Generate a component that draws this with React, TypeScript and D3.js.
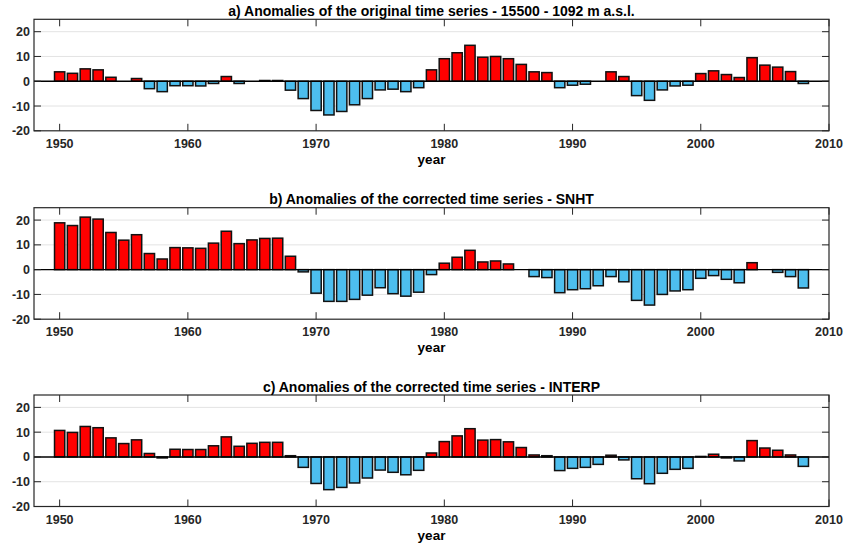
import React from "react";
import * as d3 from "d3";

// Annual anomalies, 1950–2008
const years: number[] = d3.range(1950, 2009);

const originalSeries: number[] = [
  3.8, 3.2, 5.0, 4.6, 1.6, 0.0, 1.1, -3.0, -4.2, -1.8,
  -1.8, -1.9, -0.9, 1.9, -0.9, 0.0, 0.3, 0.3, -3.6, -7.0,
  -11.8, -13.6, -12.2, -9.5, -7.0, -3.5, -3.2, -4.2, -2.6, 4.6,
  9.1, 11.5, 14.5, 9.7, 10.0, 9.1, 6.8, 3.8, 3.5, -2.6,
  -1.6, -1.2, 0.0, 3.8, 1.9, -5.8, -7.7, -3.5, -1.9, -1.6,
  3.1, 4.2, 2.7, 1.5, 9.5, 6.5, 5.7, 3.9, -0.9,
];

const snhtSeries: number[] = [
  18.9, 17.8, 21.2, 20.4, 15.0, 11.9, 14.1, 6.5, 4.3, 8.9,
  8.8, 8.6, 10.7, 15.5, 10.5, 12.0, 12.6, 12.7, 5.4, -0.9,
  -9.5, -12.8, -12.8, -12.0, -10.3, -7.3, -9.7, -10.7, -9.1, -2.0,
  2.6, 5.0, 7.8, 3.1, 3.5, 2.3, 0.0, -2.8, -3.2, -9.3,
  -8.1, -7.7, -6.5, -2.8, -4.9, -12.4, -14.3, -10.0, -8.6, -8.1,
  -3.5, -2.4, -3.9, -5.3, 2.8, 0.0, -1.1, -2.8, -7.4,
];

const interpSeries: number[] = [
  10.7, 9.9, 12.3, 11.8, 7.7, 5.4, 6.9, 1.4, -0.4, 3.1,
  3.0, 3.0, 4.5, 8.1, 4.3, 5.5, 5.9, 5.9, 0.5, -4.2,
  -10.7, -13.2, -12.3, -10.5, -8.5, -5.3, -6.2, -7.2, -5.4, 1.6,
  6.2, 8.5, 11.4, 6.8, 7.0, 6.1, 3.8, 0.8, 0.5, -5.5,
  -4.6, -4.2, -3.0, 0.7, -1.2, -8.8, -10.8, -6.6, -5.0, -4.6,
  0.2, 1.1, -0.4, -1.6, 6.6, 3.6, 2.7, 0.8, -3.8,
];

const panelTitles: string[] = [
  "a) Anomalies of the original time series - 15500 - 1092 m a.s.l.",
  "b) Anomalies of the corrected time series - SNHT",
  "c) Anomalies of the corrected time series - INTERP",
];

const xTicks: number[] = [1950, 1960, 1970, 1980, 1990, 2000, 2010];
const yTicks: number[] = [-20, -10, 0, 10, 20];
const xDomain: [number, number] = [1948, 2010];
const yDomain: [number, number] = [-20, 25];

const WIDTH = 846;
const HEIGHT = 545;
const LEFT = 34;
const RIGHT = 829;
const PANEL_TOPS = [19.3, 207.7, 395];
const PANEL_HEIGHT = 111.5;
const TICK_LEN = 7;
const AXIS_COLOR = "#262626";
const FONT = "'Liberation Sans', Arial, Helvetica, sans-serif";
const POS_COLOR = "#ff0000";
const NEG_COLOR = "#4dbeee";

const seriesList = [originalSeries, snhtSeries, interpSeries];

function Panel({ values, title, top }: { values: number[]; title: string; top: number }) {
  const bottom = top + PANEL_HEIGHT;
  const x = d3.scaleLinear().domain(xDomain).range([LEFT, RIGHT]);
  const y = d3.scaleLinear().domain(yDomain).range([bottom, top]);
  const barW = (x(1) - x(0)) * 0.8;
  const zeroY = y(0);

  return (
    <g>
      {/* horizontal grid */}
      {yTicks
        .filter((t) => t !== 0 && t !== yDomain[0])
        .map((t) => (
          <line key={"g" + t} x1={LEFT} x2={RIGHT} y1={y(t)} y2={y(t)} stroke="#e3e3e3" strokeWidth={1} />
        ))}

      {/* bars */}
      {values.map((v, i) => {
        if (v === 0) return null;
        const yr = years[i];
        const y0 = Math.min(y(v), zeroY);
        const h = Math.abs(y(v) - zeroY);
        return (
          <rect
            key={yr}
            x={x(yr) - barW / 2}
            y={y0}
            width={barW}
            height={h}
            fill={v > 0 ? POS_COLOR : NEG_COLOR}
            stroke="#111"
            strokeWidth={1.5}
          />
        );
      })}

      {/* baseline */}
      <line x1={LEFT} x2={RIGHT} y1={zeroY} y2={zeroY} stroke="#000" strokeWidth={1.4} />

      {/* frame */}
      <rect x={LEFT} y={top} width={RIGHT - LEFT} height={PANEL_HEIGHT} fill="none" stroke={AXIS_COLOR} strokeWidth={1.2} />

      {/* x ticks */}
      {xTicks.map((t) => (
        <g key={"x" + t}>
          <line x1={x(t)} x2={x(t)} y1={bottom} y2={bottom - TICK_LEN} stroke={AXIS_COLOR} strokeWidth={1} />
          <line x1={x(t)} x2={x(t)} y1={top} y2={top + TICK_LEN} stroke={AXIS_COLOR} strokeWidth={1} />
          <text
            x={x(t)}
            y={bottom + 17}
            textAnchor="middle"
            fontSize={12.5}
            fontWeight="bold"
            fill={AXIS_COLOR}
            fontFamily={FONT}
          >
            {t}
          </text>
        </g>
      ))}

      {/* y ticks */}
      {yTicks.map((t) => (
        <g key={"y" + t}>
          <line x1={LEFT} x2={LEFT + TICK_LEN} y1={y(t)} y2={y(t)} stroke={AXIS_COLOR} strokeWidth={1} />
          <line x1={RIGHT} x2={RIGHT - TICK_LEN} y1={y(t)} y2={y(t)} stroke={AXIS_COLOR} strokeWidth={1} />
          <text
            x={LEFT - 4}
            y={y(t)}
            dy="0.36em"
            textAnchor="end"
            fontSize={12.5}
            fontWeight="bold"
            fill={AXIS_COLOR}
            fontFamily={FONT}
          >
            {t}
          </text>
        </g>
      ))}

      {/* title */}
      <text
        x={(LEFT + RIGHT) / 2}
        y={top - 3.5}
        textAnchor="middle"
        fontSize={14}
        fontWeight="bold"
        fill="#000"
        fontFamily={FONT}
      >
        {title}
      </text>

      {/* x label */}
      <text
        x={(LEFT + RIGHT) / 2}
        y={bottom + 33}
        textAnchor="middle"
        fontSize={13.5}
        fontWeight="bold"
        fill="#000"
        fontFamily={FONT}
      >
        year
      </text>
    </g>
  );
}

export default function App() {
  return (
    <svg
      width={WIDTH}
      height={HEIGHT}
      viewBox={`0 0 ${WIDTH} ${HEIGHT}`}
      style={{ position: "absolute", left: 0, top: 0, background: "#fff" }}
    >
      <rect width={WIDTH} height={HEIGHT} fill="#fff" />
      {seriesList.map((vals, i) => (
        <Panel key={i} values={vals} title={panelTitles[i]} top={PANEL_TOPS[i]} />
      ))}
    </svg>
  );
}
